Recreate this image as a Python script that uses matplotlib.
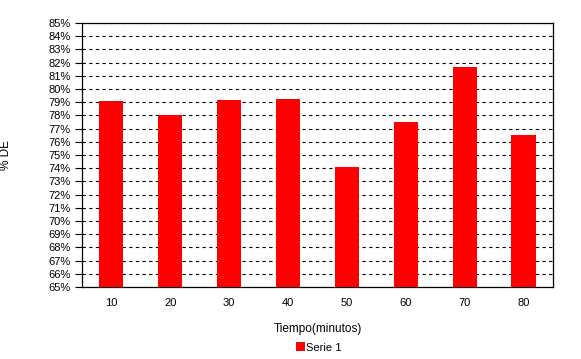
import matplotlib
matplotlib.use("Agg")
import matplotlib.pyplot as plt
from matplotlib.ticker import FuncFormatter
import numpy as np

plt.rcParams['font.family'] = ['Liberation Sans', 'DejaVu Sans']

# data
tiempo = ['10', '20', '30', '40', '50', '60', '70', '80']
de = [79.1, 78.0, 79.2, 79.25, 74.1, 77.5, 81.7, 76.5]

fig = plt.figure(figsize=(5.81, 3.59), dpi=100)
ax = fig.add_axes([0.1411, 0.2006, 0.8107, 0.7354])

x = np.arange(len(tiempo))
ax.bar(x, np.array(de) - 65, bottom=65, width=0.41, color='#ff0000', zorder=3, label='Serie 1')

ax.set_xlim(-0.5, len(tiempo) - 0.5)
ax.set_ylim(65, 85)
ax.set_yticks(np.arange(65, 86, 1))
ax.yaxis.set_major_formatter(FuncFormatter(lambda v, p: '%d%%' % v))
ax.set_xticks(x)
ax.set_xticklabels(tiempo)

ax.grid(axis='y', color='black', linestyle=(0, (3, 3)), linewidth=0.8, zorder=1)
ax.tick_params(axis='y', direction='out', length=5, width=0.8, labelsize=8, pad=3)
ax.tick_params(axis='x', direction='in', length=5, width=0.8, labelsize=8, pad=8)
for s in ax.spines.values():
    s.set_linewidth(0.9)

ax.set_ylabel('% DE', fontsize=8.5)
ax.yaxis.set_label_coords(-0.148, 0.5)
ax.set_xlabel('Tiempo(minutos)', fontsize=8.5, labelpad=11)

fig.legend(loc='lower center', bbox_to_anchor=(0.548, -0.01), frameon=False, fontsize=8,
           handlelength=0.8, handleheight=0.8, handletextpad=0.1)

plt.savefig('out.png', dpi=100)
